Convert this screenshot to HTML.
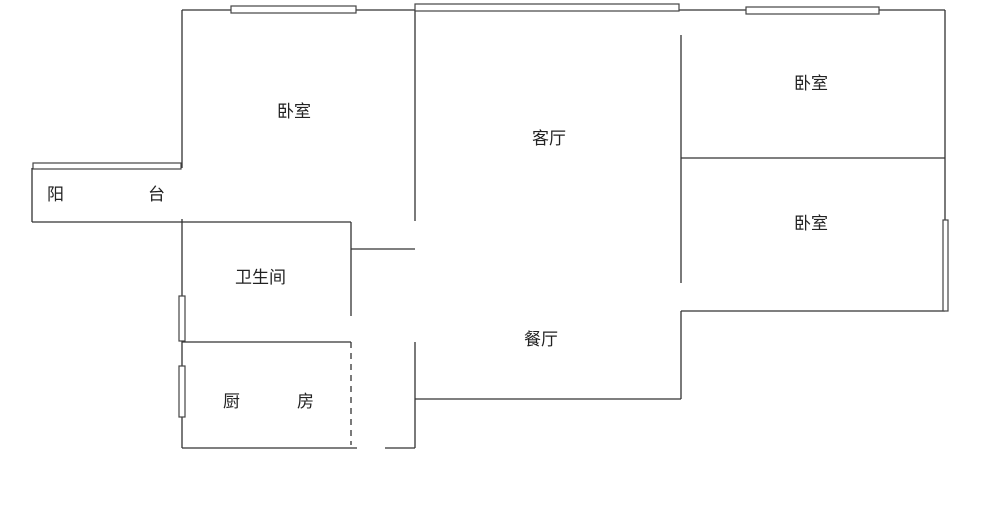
<!DOCTYPE html>
<html><head><meta charset="utf-8"><style>
html,body{margin:0;padding:0;background:#fff;width:1000px;height:530px;overflow:hidden}
svg{display:block}
text{font-family:"Liberation Sans","Noto Sans CJK SC",sans-serif;font-size:17px;fill:#222}
</style></head><body>
<svg width="1000" height="530" viewBox="0 0 1000 530" xmlns="http://www.w3.org/2000/svg">
<g stroke="#333" stroke-width="1.3" fill="none">
<!-- top wall -->
<line x1="182" y1="10" x2="945" y2="10"/>
<line x1="182" y1="10" x2="182" y2="168"/>
<!-- balcony -->
<line x1="32" y1="168" x2="32" y2="222"/>
<line x1="32" y1="222" x2="351" y2="222"/>
<!-- bath/kitchen -->
<line x1="351" y1="222" x2="351" y2="316"/>
<line x1="351" y1="342" x2="351" y2="445" stroke-dasharray="6,5"/>
<line x1="351" y1="249" x2="415" y2="249"/>
<line x1="182" y1="219" x2="182" y2="448"/>
<line x1="182" y1="342" x2="351" y2="342"/>
<line x1="182" y1="448" x2="357" y2="448"/>
<line x1="385" y1="448" x2="415" y2="448"/>
<!-- living -->
<line x1="415" y1="10" x2="415" y2="221"/>
<line x1="415" y1="342" x2="415" y2="448"/>
<line x1="415" y1="399" x2="681" y2="399"/>
<line x1="681" y1="35" x2="681" y2="283"/>
<line x1="681" y1="311" x2="681" y2="399"/>
<!-- right bedrooms -->
<line x1="681" y1="158" x2="945" y2="158"/>
<line x1="945" y1="10" x2="945" y2="311"/>
<line x1="681" y1="311" x2="945" y2="311"/>
</g>
<g stroke="#444" stroke-width="1.2" fill="#fff">
<rect x="231" y="6" width="125" height="7"/>
<rect x="415" y="4" width="264" height="7"/>
<rect x="746" y="7" width="133" height="7"/>
<rect x="33" y="163" width="148" height="6"/>
<rect x="179" y="296" width="6" height="45"/>
<rect x="179" y="366" width="6" height="51"/>
<rect x="943" y="220" width="5" height="91"/>
</g>
<text x="277" y="117">卧室</text>
<text x="532" y="144">客厅</text>
<text x="794" y="89">卧室</text>
<text x="794" y="229">卧室</text>
<text x="524" y="345">餐厅</text>
<text x="235" y="283">卫生间</text>
<text x="223" y="407">厨</text>
<text x="297" y="407">房</text>
<text x="47" y="200">阳</text>
<text x="148" y="200">台</text>
</svg>
</body></html>
